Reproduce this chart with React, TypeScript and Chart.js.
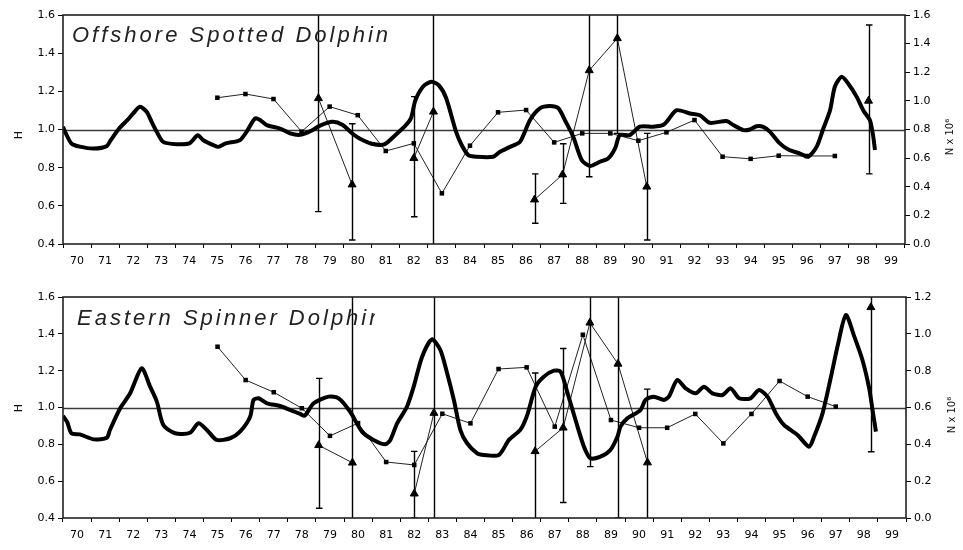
import React, { useEffect, useRef } from "react";
import { Chart, registerables } from "chart.js";

Chart.register(...registerables);

// ---------- shared axes ----------
const yearTicks = [70, 71, 72, 73, 74, 75, 76, 77, 78, 79, 80, 81, 82, 83, 84, 85, 86, 87, 88, 89, 90, 91, 92, 93, 94, 95, 96, 97, 98, 99];
const hTicks = [0.4, 0.6, 0.8, 1.0, 1.2, 1.4, 1.6];
const nTicksTop = [0.0, 0.2, 0.4, 0.6, 0.8, 1.0, 1.2, 1.4, 1.6];
const nTicksBottom = [0.0, 0.2, 0.4, 0.6, 0.8, 1.0, 1.2];
const referenceH = [1.0];

// ---------- Offshore spotted dolphin ----------
const topHYears = [69.5, 69.6, 69.8, 70.1, 70.6, 71.06, 71.2, 71.5, 71.8, 72.0, 72.24, 72.48, 72.66, 72.84, 73.07, 73.55, 74.0, 74.3, 74.5, 74.86, 75.03, 75.3, 75.8, 76.04, 76.34, 76.52, 76.76, 77.23, 77.59, 77.94, 78.3, 78.66, 79.1, 79.45, 79.84, 80.1, 80.5, 80.95, 81.3, 81.7, 81.9, 82.05, 82.33, 82.63, 82.9, 83.15, 83.5, 83.7, 83.94, 84.24, 84.83, 85.07, 85.43, 85.78, 86.14, 86.49, 86.85, 87.15, 87.38, 87.68, 87.98, 88.27, 88.63, 88.93, 89.17, 89.34, 89.7, 90.05, 90.53, 90.89, 91.06, 91.36, 91.84, 92.19, 92.55, 93.14, 93.38, 93.74, 93.97, 94.21, 94.45, 94.69, 95.04, 95.34, 95.76, 96.05, 96.35, 96.59, 96.83, 97.0, 97.24, 97.48, 97.78, 98.01, 98.25, 98.37, 98.43];
const topHValues = [1.014, 0.98, 0.927, 0.91, 0.9, 0.913, 0.944, 1.005, 1.05, 1.084, 1.119, 1.093, 1.04, 0.988, 0.935, 0.923, 0.927, 0.97, 0.944, 0.918, 0.909, 0.927, 0.944, 0.988, 1.058, 1.05, 1.023, 1.005, 0.98, 0.972, 0.99, 1.02, 1.04, 1.025, 0.975, 0.95, 0.925, 0.922, 0.965, 1.02, 1.06, 1.15, 1.225, 1.25, 1.23, 1.165, 0.99, 0.92, 0.866, 0.857, 0.857, 0.883, 0.909, 0.935, 1.05, 1.111, 1.123, 1.111, 1.05, 0.962, 0.84, 0.809, 0.831, 0.849, 0.901, 0.971, 0.971, 1.015, 1.015, 1.024, 1.05, 1.101, 1.084, 1.075, 1.035, 1.045, 1.023, 0.997, 1.0, 1.017, 1.014, 0.988, 0.927, 0.895, 0.874, 0.857, 0.909, 1.005, 1.101, 1.224, 1.276, 1.24, 1.171, 1.101, 1.049, 0.962, 0.892];
const topSqYears = [75, 76, 77, 78, 79, 80, 81, 82, 83, 84, 85, 86, 87, 88, 89, 90, 91, 92, 93, 94, 95, 96, 97];
const topSqValues = [1.022, 1.048, 1.013, 0.785, 0.96, 0.9, 0.65, 0.703, 0.354, 0.687, 0.92, 0.936, 0.71, 0.773, 0.773, 0.722, 0.78, 0.866, 0.61, 0.595, 0.617, 0.615, 0.615];
const topTriYears = [78.6, 79.8, 82.0, 82.7, 86.3, 87.3, 88.25, 89.25, 90.3, 98.2];
const topTriValues = [1.018, 0.415, 0.6, 0.924, 0.31, 0.485, 1.213, 1.437, 0.4, 1.0];
const topTriLow = [0.226, 0.028, 0.19, -0.1, 0.145, 0.284, 0.47, 0.773, 0.028, 0.49];
const topTriHigh = [1.8, 0.84, 1.03, 1.8, 0.49, 0.7, 1.8, 1.8, 0.773, 1.53];
const topTriGroup = [1, 1, 2, 2, 3, 3, 3, 3, 3, 4];

// ---------- Eastern spinner dolphin ----------
const botHYears = [69.5, 69.65, 69.8, 70.1, 70.6, 71.06, 71.17, 71.53, 71.89, 72.3, 72.6, 72.84, 73.07, 73.49, 74.02, 74.32, 74.62, 74.97, 75.45, 75.8, 76.16, 76.28, 76.46, 76.76, 77.23, 77.59, 77.94, 78.1, 78.42, 78.95, 79.31, 79.72, 80.14, 80.55, 80.97, 81.15, 81.39, 81.74, 81.98, 82.28, 82.63, 82.93, 83.17, 83.41, 83.64, 83.88, 84.24, 84.48, 85.01, 85.37, 85.78, 86.02, 86.32, 86.61, 86.97, 87.21, 87.44, 87.74, 88.04, 88.27, 88.63, 88.98, 89.23, 89.34, 89.58, 90.05, 90.23, 90.53, 90.89, 91.06, 91.36, 91.66, 92.02, 92.31, 92.61, 92.97, 93.26, 93.56, 93.97, 94.27, 94.57, 94.87, 95.16, 95.64, 96.05, 96.23, 96.53, 96.83, 97.06, 97.36, 97.66, 97.95, 98.19, 98.31, 98.43];
const botHValues = [0.955, 0.92, 0.86, 0.854, 0.827, 0.836, 0.878, 0.995, 1.077, 1.213, 1.113, 1.032, 0.905, 0.86, 0.863, 0.914, 0.878, 0.824, 0.833, 0.869, 0.95, 1.041, 1.05, 1.023, 1.008, 0.986, 0.965, 0.955, 1.023, 1.059, 1.05, 0.977, 0.869, 0.824, 0.8, 0.824, 0.914, 1.004, 1.113, 1.276, 1.37, 1.312, 1.186, 1.041, 0.878, 0.806, 0.751, 0.742, 0.742, 0.824, 0.88, 0.959, 1.113, 1.167, 1.2, 1.194, 1.086, 0.932, 0.787, 0.724, 0.733, 0.769, 0.841, 0.896, 0.941, 0.986, 1.041, 1.059, 1.041, 1.059, 1.149, 1.104, 1.077, 1.113, 1.077, 1.068, 1.104, 1.05, 1.05, 1.095, 1.059, 0.968, 0.905, 0.851, 0.787, 0.842, 0.968, 1.167, 1.33, 1.502, 1.385, 1.258, 1.104, 0.986, 0.869];
const botSqYears = [75, 76, 77, 78, 79, 80, 81, 82, 83, 84, 85, 86, 87, 88, 89, 90, 91, 92, 93, 94, 95, 96, 97];
const botSqValues = [0.93, 0.749, 0.683, 0.596, 0.446, 0.515, 0.304, 0.288, 0.566, 0.514, 0.809, 0.818, 0.496, 0.995, 0.532, 0.49, 0.49, 0.565, 0.405, 0.565, 0.744, 0.659, 0.605];
const botTriYears = [78.6, 79.8, 82.0, 82.7, 86.3, 87.3, 88.25, 89.25, 90.3, 98.25];
const botTriValues = [0.395, 0.3, 0.132, 0.57, 0.362, 0.49, 1.06, 0.837, 0.301, 1.144];
const botTriLow = [0.053, -0.1, 0.0, -0.1, -0.05, 0.084, 0.279, 0.0, -0.05, 0.36];
const botTriHigh = [0.758, 1.4, 0.362, 1.4, 0.787, 0.92, 1.4, 1.4, 0.7, 1.4];
const botTriGroup = [1, 1, 2, 2, 3, 3, 3, 3, 3, 4];

type PanelCfg = {
  top: number;
  padTop: number;
  xAxisH: number;
  rightW: number;
  nMax: number;
  nTicks: number[];
  hYears: number[];
  hValues: number[];
  sqYears: number[];
  sqValues: number[];
  triYears: number[];
  triValues: number[];
  triLow: number[];
  triHigh: number[];
  triGroup: number[];
  title: string;
  titleX: number;
  titleY: number;
  titleClip: number | null;
  hTitleY: number;
  nTitleX: number;
  nTitleY: number;
};

const tickFont = { family: "'DejaVu Sans'", size: 11 };

function Panel({ cfg }: { cfg: PanelCfg }) {
  const ref = useRef<HTMLCanvasElement>(null);
  useEffect(() => {
    const canvas = ref.current!;
    const groups = Array.from(new Set(cfg.triGroup));
    const triDatasets = groups.map((g) => ({
      type: "line" as const,
      data: cfg.triYears
        .map((x, i) => ({ x, y: cfg.triValues[i], g: cfg.triGroup[i] }))
        .filter((p) => p.g === g)
        .map((p) => ({ x: p.x, y: p.y })),
      yAxisID: "n",
      borderColor: "#222",
      borderWidth: 1,
      pointStyle: "triangle" as const,
      pointRadius: 4.6,
      pointBackgroundColor: "#000",
      pointBorderColor: "#000",
      pointBorderWidth: 1,
      tension: 0,
      order: 2,
    }));

    const overlay = {
      id: "overlay",
      beforeDatasetsDraw(chart: any) {
        const { ctx, chartArea: a, scales } = chart;
        ctx.save();
        ctx.strokeStyle = "#3a3a3a";
        ctx.lineWidth = 1.5;
        referenceH.forEach((v) => {
          const y = Math.round(scales.y.getPixelForValue(v)) + 0.5;
          ctx.beginPath();
          ctx.moveTo(a.left, y);
          ctx.lineTo(a.right, y);
          ctx.stroke();
        });
        ctx.restore();
      },
      afterDatasetsDraw(chart: any) {
        const { ctx, chartArea: a, scales } = chart;
        // error bars
        ctx.save();
        ctx.beginPath();
        ctx.rect(a.left, a.top, a.right - a.left, a.bottom - a.top);
        ctx.clip();
        ctx.strokeStyle = "#000";
        ctx.lineWidth = 1.4;
        cfg.triYears.forEach((xv, i) => {
          const x = Math.round(scales.x.getPixelForValue(xv)) + 0.5;
          const y1 = scales.n.getPixelForValue(cfg.triLow[i]);
          const y2 = scales.n.getPixelForValue(cfg.triHigh[i]);
          ctx.beginPath();
          ctx.moveTo(x, y1);
          ctx.lineTo(x, y2);
          ctx.moveTo(x - 3.5, y1);
          ctx.lineTo(x + 3, y1);
          ctx.moveTo(x - 3.5, y2);
          ctx.lineTo(x + 3, y2);
          ctx.stroke();
        });
        ctx.restore();
        // frame
        ctx.save();
        ctx.strokeStyle = "#222";
        ctx.lineWidth = 1.6;
        ctx.strokeRect(a.left, a.top, a.right - a.left, a.bottom - a.top);
        ctx.restore();
        // panel title
        ctx.save();
        if (cfg.titleClip !== null) {
          ctx.beginPath();
          ctx.rect(a.left, a.top, cfg.titleClip - a.left, 60);
          ctx.clip();
        }
        ctx.fillStyle = "#222";
        ctx.font = "italic 22px 'Liberation Sans'";
        (ctx as any).letterSpacing = "3px";
        ctx.textBaseline = "alphabetic";
        ctx.textAlign = "left";
        ctx.fillText(cfg.title, cfg.titleX, cfg.titleY);
        ctx.restore();
        // axis titles
        ctx.save();
        ctx.fillStyle = "#111";
        ctx.font = "11px 'DejaVu Sans'";
        ctx.textAlign = "center";
        ctx.textBaseline = "middle";
        ctx.translate(19, cfg.hTitleY);
        ctx.rotate(-Math.PI / 2);
        ctx.fillText("H", 0, 0);
        ctx.restore();
        ctx.save();
        ctx.fillStyle = "#111";
        ctx.font = "10px 'DejaVu Sans'";
        ctx.textAlign = "center";
        ctx.textBaseline = "middle";
        ctx.translate(cfg.nTitleX, cfg.nTitleY);
        ctx.rotate(-Math.PI / 2);
        ctx.fillText("N x 10\u2076", 0, 0);
        ctx.restore();
      },
    };

    const chart = new Chart(canvas, {
      type: "line",
      data: {
        datasets: [
          {
            data: cfg.hYears.map((x, i) => ({ x, y: cfg.hValues[i] })),
            yAxisID: "y",
            borderColor: "#000",
            borderWidth: 4,
            pointRadius: 0,
            tension: 0.25,
            order: 0,
          },
          {
            data: cfg.sqYears.map((x, i) => ({ x, y: cfg.sqValues[i] })),
            yAxisID: "n",
            borderColor: "#222",
            borderWidth: 1,
            pointStyle: "rect",
            pointRadius: 3.2,
            pointBackgroundColor: "#000",
            pointBorderColor: "#000",
            pointBorderWidth: 0,
            tension: 0,
            order: 1,
          },
          ...triDatasets,
        ] as any,
      },
      options: {
        animation: false,
        responsive: false,
        events: [],
        layout: { padding: { top: cfg.padTop, left: 0, right: 0, bottom: 0 } },
        plugins: {
          legend: { display: false },
          tooltip: { enabled: false },
          title: { display: false },
        },
        scales: {
          x: {
            type: "linear",
            min: 69.5,
            max: 99.5,
            afterBuildTicks: (s: any) => {
              s.ticks = yearTicks.map((v) => ({ value: v }));
            },
            afterFit: (s: any) => {
              s.height = cfg.xAxisH;
            },
            ticks: {
              callback: (v: any) => String(v),
              font: tickFont,
              color: "#000",
              padding: 7,
              maxRotation: 0,
              minRotation: 0,
              autoSkip: false,
            },
            grid: {
              offset: true,
              drawOnChartArea: false,
              drawTicks: true,
              tickLength: 4,
              color: "#000",
              lineWidth: 1,
            },
            border: { display: false },
          },
          y: {
            type: "linear",
            position: "left",
            min: 0.4,
            max: 1.6,
            afterBuildTicks: (s: any) => {
              s.ticks = hTicks.map((v) => ({ value: v }));
            },
            afterFit: (s: any) => {
              s.width = 63;
            },
            ticks: {
              callback: (v: any) => Number(v).toFixed(1),
              font: tickFont,
              color: "#000",
              padding: 3,
            },
            grid: {
              drawOnChartArea: false,
              drawTicks: true,
              tickLength: 5,
              color: "#000",
              lineWidth: 1,
            },
            border: { display: false },
          },
          n: {
            type: "linear",
            position: "right",
            min: 0,
            max: cfg.nMax,
            afterBuildTicks: (s: any) => {
              s.ticks = cfg.nTicks.map((v) => ({ value: v }));
            },
            afterFit: (s: any) => {
              s.width = cfg.rightW;
            },
            ticks: {
              callback: (v: any) => Number(v).toFixed(1),
              font: tickFont,
              color: "#000",
              padding: 3,
            },
            grid: {
              drawOnChartArea: false,
              drawTicks: true,
              tickLength: 5,
              color: "#000",
              lineWidth: 1,
            },
            border: { display: false },
          },
        },
      } as any,
      plugins: [overlay],
    });
    return () => chart.destroy();
  }, [cfg]);

  return (
    <div style={{ position: "absolute", left: 0, top: cfg.top, width: 963, height: 275 }}>
      <canvas ref={ref} width={963} height={275} style={{ width: 963, height: 275, display: "block" }} />
    </div>
  );
}

const topPanel: PanelCfg = {
  top: 0,
  padTop: 15,
  xAxisH: 31,
  rightW: 58,
  nMax: 1.6,
  nTicks: nTicksTop,
  hYears: topHYears,
  hValues: topHValues,
  sqYears: topSqYears,
  sqValues: topSqValues,
  triYears: topTriYears,
  triValues: topTriValues,
  triLow: topTriLow,
  triHigh: topTriHigh,
  triGroup: topTriGroup,
  title: "Offshore Spotted Dolphin",
  titleX: 72,
  titleY: 42,
  titleClip: null,
  hTitleY: 135,
  nTitleX: 950,
  nTitleY: 137,
};

const bottomPanel: PanelCfg = {
  top: 275,
  padTop: 22,
  xAxisH: 32,
  rightW: 57,
  nMax: 1.2,
  nTicks: nTicksBottom,
  hYears: botHYears,
  hValues: botHValues,
  sqYears: botSqYears,
  sqValues: botSqValues,
  triYears: botTriYears,
  triValues: botTriValues,
  triLow: botTriLow,
  triHigh: botTriHigh,
  triGroup: botTriGroup,
  title: "Eastern Spinner Dolphin",
  titleX: 77,
  titleY: 50,
  titleClip: 375,
  hTitleY: 133,
  nTitleX: 952,
  nTitleY: 140,
};

export default function App() {
  return (
    <div style={{ position: "absolute", left: 0, top: 0, width: 963, height: 550, background: "#fff", overflow: "hidden" }}>
      <Panel cfg={topPanel} />
      <Panel cfg={bottomPanel} />
    </div>
  );
}
